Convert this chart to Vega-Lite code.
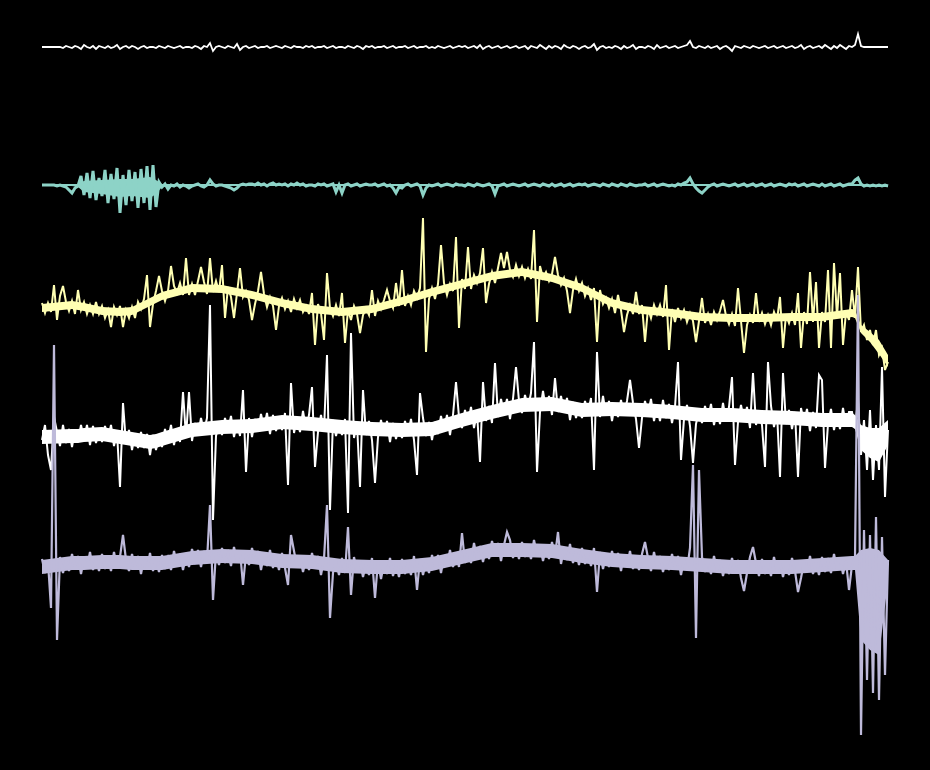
{
"$schema": "https://vega.github.io/schema/vega-lite/v6.json",
"width": 930, "height": 770,
"autosize": {"type": "fit", "contains": "padding"},
"padding": 0,
"background": "#000000",
"config": {"view": {"stroke": null}},
"datasets": {
"env": [
{"k":0,"bl":184,"bh":186,"cl":304,"ch":312,"dl":430,"dh":444,"el":560,"eh":574},
{"k":10,"bl":184,"bh":186,"cl":301,"ch":309,"dl":429,"dh":443,"el":556,"eh":570},
{"k":12,"bl":184,"bh":187,"cl":302,"ch":310,"dl":429,"dh":443,"el":556,"eh":570},
{"k":14,"bl":181,"bh":192,"cl":303,"ch":311,"dl":428,"dh":442,"el":556,"eh":570},
{"k":20,"bl":180,"bh":194,"cl":307,"ch":315,"dl":427,"dh":441,"el":555,"eh":569},
{"k":26,"bl":179,"bh":197,"cl":308,"ch":316,"dl":430,"dh":444,"el":555,"eh":569},
{"k":30,"bl":179,"bh":196,"cl":307,"ch":315,"dl":432,"dh":446,"el":556,"eh":570},
{"k":36,"bl":177,"bh":198,"cl":298,"ch":306,"dl":435,"dh":449,"el":556,"eh":570},
{"k":38,"bl":180,"bh":194,"cl":295,"ch":303,"dl":434,"dh":448,"el":556,"eh":570},
{"k":40,"bl":184,"bh":187,"cl":292,"ch":300,"dl":432,"dh":446,"el":556,"eh":570},
{"k":50,"bl":184,"bh":186,"cl":284,"ch":292,"dl":423,"dh":437,"el":551,"eh":565},
{"k":60,"bl":184,"bh":186,"cl":285,"ch":293,"dl":420,"dh":434,"el":549,"eh":563},
{"k":70,"bl":184,"bh":186,"cl":291,"ch":299,"dl":419,"dh":433,"el":550,"eh":564},
{"k":80,"bl":184,"bh":186,"cl":299,"ch":307,"dl":415,"dh":429,"el":554,"eh":568},
{"k":90,"bl":184,"bh":186,"cl":305,"ch":313,"dl":417,"dh":431,"el":555,"eh":569},
{"k":100,"bl":184,"bh":186,"cl":308,"ch":316,"dl":420,"dh":434,"el":559,"eh":573},
{"k":110,"bl":184,"bh":186,"cl":305,"ch":313,"dl":422,"dh":436,"el":560,"eh":574},
{"k":120,"bl":184,"bh":186,"cl":297,"ch":305,"dl":423,"dh":437,"el":560,"eh":574},
{"k":130,"bl":184,"bh":186,"cl":288,"ch":296,"dl":422,"dh":436,"el":557,"eh":571},
{"k":140,"bl":184,"bh":186,"cl":280,"ch":288,"dl":413,"dh":427,"el":550,"eh":564},
{"k":150,"bl":184,"bh":186,"cl":272,"ch":280,"dl":405,"dh":419,"el":543,"eh":557},
{"k":160,"bl":184,"bh":186,"cl":268,"ch":276,"dl":398,"dh":412,"el":543,"eh":557},
{"k":170,"bl":184,"bh":186,"cl":274,"ch":282,"dl":397,"dh":411,"el":544,"eh":558},
{"k":180,"bl":184,"bh":186,"cl":284,"ch":292,"dl":403,"dh":417,"el":549,"eh":563},
{"k":190,"bl":184,"bh":186,"cl":299,"ch":307,"dl":402,"dh":416,"el":553,"eh":567},
{"k":200,"bl":184,"bh":186,"cl":306,"ch":314,"dl":403,"dh":417,"el":555,"eh":569},
{"k":210,"bl":184,"bh":186,"cl":309,"ch":317,"dl":405,"dh":419,"el":556,"eh":570},
{"k":220,"bl":184,"bh":186,"cl":313,"ch":321,"dl":408,"dh":422,"el":558,"eh":572},
{"k":230,"bl":184,"bh":186,"cl":314,"ch":322,"dl":408,"dh":422,"el":560,"eh":574},
{"k":240,"bl":184,"bh":186,"cl":314,"ch":322,"dl":410,"dh":424,"el":560,"eh":574},
{"k":250,"bl":184,"bh":186,"cl":313,"ch":321,"dl":411,"dh":425,"el":560,"eh":574},
{"k":260,"bl":184,"bh":186,"cl":313,"ch":321,"dl":413,"dh":427,"el":558,"eh":572},
{"k":270,"bl":184,"bh":186,"cl":309,"ch":317,"dl":413,"dh":427,"el":556,"eh":570},
{"k":271,"bl":184,"bh":186,"cl":310,"ch":318,"dl":415,"dh":429,"el":556,"eh":570},
{"k":273,"bl":184,"bh":186,"cl":325,"ch":333,"dl":425,"dh":450,"el":550,"eh":640},
{"k":276,"bl":185,"bh":187,"cl":332,"ch":342,"dl":428,"dh":458,"el":548,"eh":650},
{"k":279,"bl":185,"bh":187,"cl":340,"ch":354,"dl":428,"dh":462,"el":550,"eh":655},
{"k":282,"bl":185,"bh":187,"cl":355,"ch":367,"dl":420,"dh":445,"el":560,"eh":582}
],
"sig": [
{"k":0,"a":47,"b":185,"c":303,"d":440,"e":559},
{"k":1,"a":47,"b":185,"c":313,"d":425,"e":573},
{"k":2,"a":47,"b":185,"c":303,"d":455,"e":562},
{"k":3,"a":47,"b":185,"c":312,"d":470,"e":608},
{"k":4,"a":47,"b":185,"c":285,"d":417,"e":345},
{"k":5,"a":47,"b":186,"c":320,"d":432,"e":640},
{"k":6,"a":47,"b":185,"c":296,"d":446,"e":557},
{"k":7,"a":48,"b":186,"c":286,"d":425,"e":573},
{"k":8,"a":46,"b":187,"c":302,"d":443,"e":560},
{"k":9,"a":47,"b":190,"c":311,"d":429,"e":571},
{"k":10,"a":48,"b":193,"c":301,"d":447,"e":554},
{"k":11,"a":46,"b":188,"c":314,"d":430,"e":567},
{"k":12,"a":47,"b":186,"c":290,"d":442,"e":556},
{"k":13,"a":49,"b":176,"c":310,"d":425,"e":574},
{"k":14,"a":45,"b":195,"c":302,"d":439,"e":558},
{"k":15,"a":47,"b":173,"c":314,"d":425,"e":568},
{"k":16,"a":48,"b":198,"c":305,"d":445,"e":552},
{"k":17,"a":46,"b":171,"c":314,"d":426,"e":570},
{"k":18,"a":49,"b":200,"c":302,"d":443,"e":558},
{"k":19,"a":46,"b":178,"c":314,"d":430,"e":571},
{"k":20,"a":47,"b":196,"c":306,"d":442,"e":554},
{"k":21,"a":48,"b":170,"c":318,"d":426,"e":569},
{"k":22,"a":46,"b":203,"c":310,"d":439,"e":558},
{"k":23,"a":48,"b":174,"c":327,"d":425,"e":571},
{"k":24,"a":47,"b":199,"c":307,"d":446,"e":552},
{"k":25,"a":45,"b":168,"c":315,"d":432,"e":568},
{"k":26,"a":49,"b":213,"c":306,"d":487,"e":557},
{"k":27,"a":47,"b":175,"c":327,"d":403,"e":535},
{"k":28,"a":46,"b":205,"c":310,"d":444,"e":560},
{"k":29,"a":48,"b":170,"c":318,"d":430,"e":571},
{"k":30,"a":46,"b":201,"c":307,"d":450,"e":554},
{"k":31,"a":47,"b":172,"c":318,"d":434,"e":567},
{"k":32,"a":49,"b":208,"c":302,"d":448,"e":556},
{"k":33,"a":47,"b":169,"c":309,"d":432,"e":574},
{"k":34,"a":46,"b":203,"c":299,"d":448,"e":558},
{"k":35,"a":48,"b":166,"c":275,"d":434,"e":569},
{"k":36,"a":47,"b":210,"c":327,"d":455,"e":553},
{"k":37,"a":47,"b":165,"c":304,"d":435,"e":571},
{"k":38,"a":48,"b":207,"c":291,"d":450,"e":559},
{"k":39,"a":46,"b":182,"c":276,"d":436,"e":572},
{"k":40,"a":47,"b":187,"c":291,"d":447,"e":555},
{"k":41,"a":48,"b":184,"c":301,"d":429,"e":569},
{"k":42,"a":46,"b":189,"c":291,"d":441,"e":558},
{"k":43,"a":47,"b":185,"c":266,"d":425,"e":570},
{"k":44,"a":48,"b":186,"c":286,"d":445,"e":551},
{"k":45,"a":47,"b":184,"c":293,"d":429,"e":565},
{"k":46,"a":46,"b":187,"c":283,"d":442,"e":554},
{"k":47,"a":48,"b":185,"c":295,"d":392,"e":570},
{"k":48,"a":47,"b":186,"c":258,"d":437,"e":556},
{"k":49,"a":47,"b":188,"c":295,"d":392,"e":567},
{"k":50,"a":48,"b":186,"c":284,"d":441,"e":549},
{"k":51,"a":46,"b":185,"c":295,"d":423,"e":561},
{"k":52,"a":47,"b":184,"c":281,"d":435,"e":550},
{"k":53,"a":49,"b":186,"c":267,"d":418,"e":567},
{"k":54,"a":46,"b":187,"c":282,"d":432,"e":551},
{"k":55,"a":47,"b":185,"c":294,"d":418,"e":561},
{"k":56,"a":43,"b":180,"c":258,"d":305,"e":505},
{"k":57,"a":51,"b":184,"c":292,"d":520,"e":600},
{"k":58,"a":47,"b":186,"c":281,"d":436,"e":552},
{"k":59,"a":46,"b":185,"c":292,"d":423,"e":565},
{"k":60,"a":47,"b":185,"c":265,"d":435,"e":548},
{"k":61,"a":48,"b":186,"c":318,"d":418,"e":563},
{"k":62,"a":46,"b":187,"c":287,"d":431,"e":553},
{"k":63,"a":47,"b":188,"c":297,"d":416,"e":566},
{"k":64,"a":48,"b":190,"c":318,"d":437,"e":547},
{"k":65,"a":44,"b":188,"c":293,"d":422,"e":562},
{"k":66,"a":50,"b":185,"c":268,"d":436,"e":551},
{"k":67,"a":47,"b":184,"c":297,"d":390,"e":585},
{"k":68,"a":46,"b":185,"c":291,"d":472,"e":554},
{"k":69,"a":48,"b":184,"c":300,"d":418,"e":565},
{"k":70,"a":47,"b":184,"c":320,"d":437,"e":548},
{"k":71,"a":46,"b":185,"c":304,"d":419,"e":562},
{"k":72,"a":48,"b":183,"c":291,"d":431,"e":551},
{"k":73,"a":47,"b":185,"c":272,"d":414,"e":570},
{"k":74,"a":47,"b":184,"c":294,"d":428,"e":554},
{"k":75,"a":46,"b":186,"c":307,"d":413,"e":566},
{"k":76,"a":48,"b":184,"c":297,"d":434,"e":550},
{"k":77,"a":47,"b":183,"c":306,"d":415,"e":568},
{"k":78,"a":46,"b":185,"c":330,"d":431,"e":557},
{"k":79,"a":47,"b":184,"c":306,"d":418,"e":570},
{"k":80,"a":48,"b":185,"c":298,"d":430,"e":553},
{"k":81,"a":46,"b":184,"c":309,"d":413,"e":568},
{"k":82,"a":47,"b":186,"c":301,"d":485,"e":585},
{"k":83,"a":48,"b":184,"c":312,"d":383,"e":535},
{"k":84,"a":46,"b":185,"c":299,"d":433,"e":551},
{"k":85,"a":47,"b":183,"c":308,"d":418,"e":567},
{"k":86,"a":47,"b":185,"c":300,"d":432,"e":556},
{"k":87,"a":48,"b":184,"c":312,"d":411,"e":572},
{"k":88,"a":46,"b":186,"c":306,"d":429,"e":559},
{"k":89,"a":47,"b":185,"c":314,"d":415,"e":570},
{"k":90,"a":46,"b":185,"c":293,"d":387,"e":553},
{"k":91,"a":48,"b":186,"c":345,"d":467,"e":567},
{"k":92,"a":47,"b":184,"c":304,"d":432,"e":556},
{"k":93,"a":47,"b":185,"c":313,"d":415,"e":575},
{"k":94,"a":46,"b":184,"c":340,"d":431,"e":559},
{"k":95,"a":48,"b":186,"c":273,"d":355,"e":505},
{"k":96,"a":47,"b":185,"c":308,"d":510,"e":618},
{"k":97,"a":46,"b":184,"c":316,"d":420,"e":573},
{"k":98,"a":48,"b":192,"c":305,"d":436,"e":561},
{"k":99,"a":47,"b":185,"c":316,"d":423,"e":575},
{"k":100,"a":47,"b":193,"c":293,"d":435,"e":558},
{"k":101,"a":48,"b":185,"c":343,"d":419,"e":573},
{"k":102,"a":46,"b":184,"c":310,"d":513,"e":527},
{"k":103,"a":47,"b":186,"c":320,"d":333,"e":595},
{"k":104,"a":48,"b":185,"c":306,"d":438,"e":557},
{"k":105,"a":46,"b":184,"c":314,"d":423,"e":572},
{"k":106,"a":47,"b":186,"c":333,"d":487,"e":561},
{"k":107,"a":49,"b":185,"c":315,"d":390,"e":577},
{"k":108,"a":46,"b":184,"c":308,"d":435,"e":564},
{"k":109,"a":47,"b":185,"c":315,"d":421,"e":575},
{"k":110,"a":46,"b":185,"c":290,"d":440,"e":558},
{"k":111,"a":48,"b":184,"c":316,"d":483,"e":598},
{"k":112,"a":47,"b":186,"c":301,"d":437,"e":561},
{"k":113,"a":47,"b":185,"c":309,"d":420,"e":579},
{"k":114,"a":46,"b":184,"c":300,"d":435,"e":563},
{"k":115,"a":48,"b":186,"c":290,"d":421,"e":574},
{"k":116,"a":47,"b":185,"c":301,"d":442,"e":558},
{"k":117,"a":46,"b":188,"c":308,"d":423,"e":576},
{"k":118,"a":48,"b":193,"c":283,"d":439,"e":564},
{"k":119,"a":47,"b":187,"c":306,"d":426,"e":577},
{"k":120,"a":47,"b":188,"c":270,"d":438,"e":559},
{"k":121,"a":46,"b":185,"c":306,"d":421,"e":574},
{"k":122,"a":48,"b":184,"c":296,"d":434,"e":562},
{"k":123,"a":47,"b":186,"c":305,"d":419,"e":575},
{"k":124,"a":46,"b":185,"c":291,"d":440,"e":556},
{"k":125,"a":48,"b":184,"c":298,"d":475,"e":590},
{"k":126,"a":47,"b":186,"c":288,"d":393,"e":559},
{"k":127,"a":47,"b":195,"c":218,"d":418,"e":575},
{"k":128,"a":46,"b":188,"c":352,"d":436,"e":562},
{"k":129,"a":48,"b":185,"c":299,"d":422,"e":573},
{"k":130,"a":47,"b":186,"c":288,"d":440,"e":555},
{"k":131,"a":48,"b":185,"c":299,"d":422,"e":567},
{"k":132,"a":46,"b":184,"c":284,"d":434,"e":555},
{"k":133,"a":47,"b":186,"c":245,"d":416,"e":573},
{"k":134,"a":48,"b":185,"c":283,"d":430,"e":556},
{"k":135,"a":47,"b":184,"c":295,"d":415,"e":566},
{"k":136,"a":46,"b":185,"c":284,"d":435,"e":550},
{"k":137,"a":48,"b":186,"c":291,"d":415,"e":567},
{"k":138,"a":47,"b":184,"c":237,"d":382,"e":555},
{"k":139,"a":46,"b":185,"c":328,"d":417,"e":567},
{"k":140,"a":47,"b":185,"c":279,"d":428,"e":533},
{"k":141,"a":46,"b":186,"c":289,"d":410,"e":563},
{"k":142,"a":48,"b":184,"c":247,"d":423,"e":551},
{"k":143,"a":47,"b":185,"c":289,"d":407,"e":563},
{"k":144,"a":46,"b":186,"c":275,"d":428,"e":543},
{"k":145,"a":48,"b":184,"c":283,"d":412,"e":558},
{"k":146,"a":45,"b":185,"c":273,"d":462,"e":546},
{"k":147,"a":49,"b":186,"c":248,"d":382,"e":562},
{"k":148,"a":47,"b":185,"c":303,"d":421,"e":548},
{"k":149,"a":46,"b":184,"c":284,"d":406,"e":559},
{"k":150,"a":48,"b":186,"c":272,"d":423,"e":541},
{"k":151,"a":47,"b":194,"c":283,"d":363,"e":554},
{"k":152,"a":46,"b":186,"c":268,"d":417,"e":543},
{"k":153,"a":48,"b":185,"c":253,"d":399,"e":561},
{"k":154,"a":47,"b":184,"c":268,"d":413,"e":545},
{"k":155,"a":46,"b":186,"c":252,"d":399,"e":532},
{"k":156,"a":48,"b":185,"c":270,"d":419,"e":540},
{"k":157,"a":47,"b":184,"c":277,"d":399,"e":558},
{"k":158,"a":46,"b":185,"c":265,"d":367,"e":546},
{"k":159,"a":48,"b":186,"c":276,"d":401,"e":559},
{"k":160,"a":47,"b":185,"c":267,"d":413,"e":542},
{"k":161,"a":46,"b":184,"c":278,"d":395,"e":557},
{"k":162,"a":49,"b":186,"c":269,"d":408,"e":546},
{"k":163,"a":46,"b":185,"c":279,"d":393,"e":559},
{"k":164,"a":47,"b":184,"c":230,"d":342,"e":540},
{"k":165,"a":48,"b":185,"c":322,"d":472,"e":555},
{"k":166,"a":45,"b":186,"c":266,"d":412,"e":545},
{"k":167,"a":47,"b":184,"c":278,"d":391,"e":561},
{"k":168,"a":49,"b":185,"c":272,"d":410,"e":548},
{"k":169,"a":46,"b":186,"c":281,"d":396,"e":559},
{"k":170,"a":48,"b":184,"c":274,"d":415,"e":542},
{"k":171,"a":46,"b":186,"c":257,"d":378,"e":556},
{"k":172,"a":47,"b":185,"c":275,"d":412,"e":532},
{"k":173,"a":49,"b":184,"c":285,"d":396,"e":564},
{"k":174,"a":45,"b":186,"c":278,"d":412,"e":548},
{"k":175,"a":47,"b":185,"c":291,"d":398,"e":560},
{"k":176,"a":48,"b":184,"c":313,"d":420,"e":544},
{"k":177,"a":46,"b":186,"c":290,"d":402,"e":563},
{"k":178,"a":47,"b":185,"c":279,"d":418,"e":551},
{"k":179,"a":49,"b":184,"c":291,"d":406,"e":565},
{"k":180,"a":47,"b":185,"c":283,"d":418,"e":548},
{"k":181,"a":46,"b":184,"c":296,"d":401,"e":564},
{"k":182,"a":48,"b":186,"c":288,"d":413,"e":553},
{"k":183,"a":47,"b":185,"c":300,"d":398,"e":566},
{"k":184,"a":44,"b":184,"c":288,"d":470,"e":548},
{"k":185,"a":50,"b":185,"c":342,"d":352,"e":592},
{"k":186,"a":47,"b":186,"c":290,"d":417,"e":552},
{"k":187,"a":46,"b":184,"c":304,"d":396,"e":569},
{"k":188,"a":48,"b":185,"c":298,"d":415,"e":556},
{"k":189,"a":47,"b":186,"c":308,"d":401,"e":567},
{"k":190,"a":48,"b":184,"c":299,"d":421,"e":551},
{"k":191,"a":46,"b":185,"c":313,"d":404,"e":564},
{"k":192,"a":47,"b":186,"c":295,"d":417,"e":553},
{"k":193,"a":49,"b":184,"c":310,"d":400,"e":571},
{"k":194,"a":46,"b":185,"c":332,"d":415,"e":555},
{"k":195,"a":48,"b":186,"c":315,"d":401,"e":566},
{"k":196,"a":47,"b":184,"c":305,"d":380,"e":551},
{"k":197,"a":45,"b":185,"c":314,"d":403,"e":569},
{"k":198,"a":49,"b":186,"c":292,"d":419,"e":557},
{"k":199,"a":47,"b":185,"c":314,"d":448,"e":570},
{"k":200,"a":47,"b":185,"c":305,"d":418,"e":554},
{"k":201,"a":48,"b":184,"c":342,"d":401,"e":542},
{"k":202,"a":46,"b":186,"c":308,"d":414,"e":558},
{"k":203,"a":47,"b":185,"c":318,"d":399,"e":571},
{"k":204,"a":49,"b":184,"c":305,"d":421,"e":552},
{"k":205,"a":45,"b":186,"c":314,"d":406,"e":567},
{"k":206,"a":48,"b":185,"c":305,"d":421,"e":556},
{"k":207,"a":47,"b":184,"c":317,"d":400,"e":572},
{"k":208,"a":46,"b":185,"c":285,"d":418,"e":559},
{"k":209,"a":48,"b":186,"c":350,"d":404,"e":570},
{"k":210,"a":47,"b":185,"c":309,"d":423,"e":554},
{"k":211,"a":46,"b":186,"c":322,"d":407,"e":567},
{"k":212,"a":48,"b":184,"c":308,"d":362,"e":556},
{"k":213,"a":47,"b":185,"c":318,"d":460,"e":575},
{"k":214,"a":46,"b":183,"c":310,"d":419,"e":559},
{"k":215,"a":45,"b":182,"c":322,"d":405,"e":570},
{"k":216,"a":41,"b":178,"c":313,"d":426,"e":548},
{"k":217,"a":47,"b":184,"c":321,"d":463,"e":465},
{"k":218,"a":48,"b":188,"c":342,"d":424,"e":638},
{"k":219,"a":46,"b":191,"c":321,"d":411,"e":470},
{"k":220,"a":47,"b":193,"c":298,"d":423,"e":557},
{"k":221,"a":48,"b":190,"c":323,"d":406,"e":572},
{"k":222,"a":46,"b":187,"c":314,"d":419,"e":561},
{"k":223,"a":48,"b":185,"c":325,"d":404,"e":574},
{"k":224,"a":47,"b":184,"c":312,"d":425,"e":556},
{"k":225,"a":46,"b":186,"c":320,"d":410,"e":571},
{"k":226,"a":49,"b":185,"c":311,"d":424,"e":560},
{"k":227,"a":47,"b":184,"c":300,"d":403,"e":576},
{"k":228,"a":46,"b":185,"c":316,"d":421,"e":563},
{"k":229,"a":48,"b":186,"c":324,"d":407,"e":574},
{"k":230,"a":51,"b":185,"c":314,"d":377,"e":558},
{"k":231,"a":46,"b":184,"c":326,"d":465,"e":571},
{"k":232,"a":47,"b":186,"c":288,"d":422,"e":560},
{"k":233,"a":48,"b":185,"c":321,"d":405,"e":578},
{"k":234,"a":46,"b":184,"c":353,"d":421,"e":591},
{"k":235,"a":47,"b":186,"c":325,"d":407,"e":573},
{"k":236,"a":48,"b":185,"c":315,"d":428,"e":557},
{"k":237,"a":46,"b":184,"c":323,"d":373,"e":547},
{"k":238,"a":47,"b":186,"c":293,"d":425,"e":563},
{"k":239,"a":48,"b":185,"c":322,"d":412,"e":576},
{"k":240,"a":47,"b":184,"c":313,"d":425,"e":559},
{"k":241,"a":46,"b":186,"c":324,"d":467,"e":574},
{"k":242,"a":48,"b":185,"c":315,"d":362,"e":563},
{"k":243,"a":47,"b":184,"c":325,"d":406,"e":576},
{"k":244,"a":46,"b":186,"c":312,"d":427,"e":557},
{"k":245,"a":48,"b":185,"c":320,"d":412,"e":572},
{"k":246,"a":47,"b":184,"c":297,"d":477,"e":561},
{"k":247,"a":46,"b":185,"c":348,"d":373,"e":577},
{"k":248,"a":48,"b":186,"c":315,"d":424,"e":564},
{"k":249,"a":47,"b":184,"c":323,"d":410,"e":575},
{"k":250,"a":46,"b":185,"c":313,"d":429,"e":558},
{"k":251,"a":48,"b":184,"c":325,"d":412,"e":571},
{"k":252,"a":47,"b":186,"c":293,"d":477,"e":592},
{"k":253,"a":45,"b":185,"c":348,"d":408,"e":578},
{"k":254,"a":49,"b":184,"c":312,"d":423,"e":562},
{"k":255,"a":47,"b":186,"c":324,"d":409,"e":572},
{"k":256,"a":46,"b":185,"c":272,"d":431,"e":556},
{"k":257,"a":48,"b":184,"c":322,"d":412,"e":574},
{"k":258,"a":47,"b":185,"c":282,"d":428,"e":562},
{"k":259,"a":46,"b":186,"c":348,"d":375,"e":575},
{"k":260,"a":48,"b":184,"c":312,"d":380,"e":557},
{"k":261,"a":45,"b":186,"c":322,"d":468,"e":572},
{"k":262,"a":47,"b":185,"c":270,"d":424,"e":561},
{"k":263,"a":49,"b":184,"c":348,"d":409,"e":573},
{"k":264,"a":46,"b":186,"c":263,"d":430,"e":554},
{"k":265,"a":48,"b":185,"c":317,"d":415,"e":569},
{"k":266,"a":45,"b":184,"c":273,"d":429,"e":558},
{"k":267,"a":47,"b":186,"c":345,"d":408,"e":574},
{"k":268,"a":49,"b":185,"c":312,"d":426,"e":561},
{"k":269,"a":46,"b":184,"c":320,"d":412,"e":590},
{"k":270,"a":47,"b":184,"c":290,"d":412,"e":565},
{"k":271,"a":45,"b":180,"c":318,"d":428,"e":558},
{"k":272,"a":34,"b":178,"c":267,"d":400,"e":295},
{"k":273,"a":46,"b":184,"c":332,"d":455,"e":735},
{"k":274,"a":47,"b":186,"c":325,"d":420,"e":530},
{"k":275,"a":47,"b":185,"c":340,"d":470,"e":680},
{"k":276,"a":47,"b":186,"c":330,"d":410,"e":535},
{"k":277,"a":47,"b":185,"c":345,"d":480,"e":693},
{"k":278,"a":47,"b":186,"c":330,"d":425,"e":517},
{"k":279,"a":47,"b":185,"c":355,"d":470,"e":700},
{"k":280,"a":47,"b":186,"c":348,"d":367,"e":537},
{"k":281,"a":47,"b":185,"c":370,"d":497,"e":675},
{"k":282,"a":47,"b":186,"c":362,"d":430,"e":560}
]},
"encoding": {
  "x": {"field": "k", "type": "quantitative", "scale": {"domain": [-14, 296], "nice": false, "zero": false}, "axis": null}
},
"layer": [
  {"data": {"name": "sig"}, "mark": {"type": "line", "color": "#ffffff", "strokeWidth": 1.8},
   "encoding": {"y": {"field": "a", "type": "quantitative", "scale": {"domain": [0, 770], "reverse": true, "nice": false, "zero": false}, "axis": null}}},
  {"data": {"name": "env"}, "mark": {"type": "area", "color": "#8dd3c7", "opacity": 1},
   "encoding": {"y": {"field": "bl", "type": "quantitative", "axis": null}, "y2": {"field": "bh"}}},
  {"data": {"name": "sig"}, "mark": {"type": "line", "color": "#8dd3c7", "strokeWidth": 3},
   "encoding": {"y": {"field": "b", "type": "quantitative", "axis": null}}},
  {"data": {"name": "env"}, "mark": {"type": "area", "color": "#ffffb3", "opacity": 1},
   "encoding": {"y": {"field": "cl", "type": "quantitative", "axis": null}, "y2": {"field": "ch"}}},
  {"data": {"name": "sig"}, "mark": {"type": "line", "color": "#ffffb3", "strokeWidth": 2},
   "encoding": {"y": {"field": "c", "type": "quantitative", "axis": null}}},
  {"data": {"name": "env"}, "mark": {"type": "area", "color": "#ffffff", "opacity": 1},
   "encoding": {"y": {"field": "dl", "type": "quantitative", "axis": null}, "y2": {"field": "dh"}}},
  {"data": {"name": "sig"}, "mark": {"type": "line", "color": "#ffffff", "strokeWidth": 2},
   "encoding": {"y": {"field": "d", "type": "quantitative", "axis": null}}},
  {"data": {"name": "env"}, "mark": {"type": "area", "color": "#bebada", "opacity": 1},
   "encoding": {"y": {"field": "el", "type": "quantitative", "axis": null}, "y2": {"field": "eh"}}},
  {"data": {"name": "sig"}, "mark": {"type": "line", "color": "#bebada", "strokeWidth": 2.2},
   "encoding": {"y": {"field": "e", "type": "quantitative", "axis": null}}}
]
}
